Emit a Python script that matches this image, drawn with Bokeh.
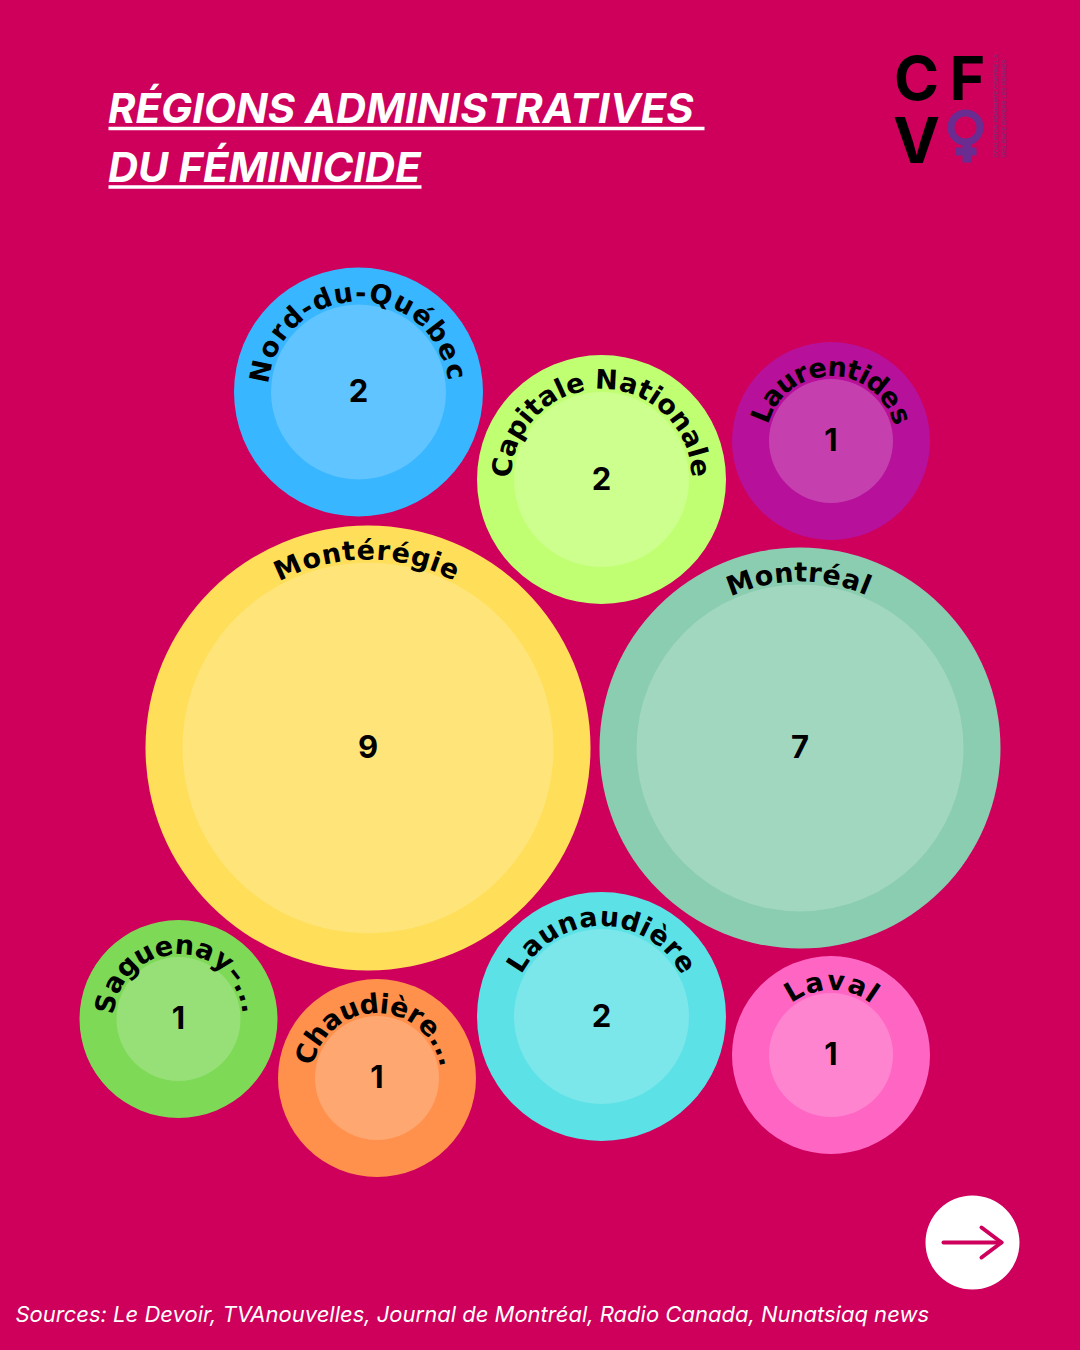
import math
from bokeh.plotting import figure
from bokeh.embed import file_html
from bokeh.resources import INLINE
from bokeh.core.properties import value

# ---------- data ----------
regions = ["Nord-du-Québec", "Capitale Nationale", "Laurentides", "Montérégie", "Montréal",
           "Saguenay–...", "Chaudière...", "Launaudière", "Laval"]
counts = [2, 2, 1, 9, 7, 1, 1, 2, 1]
colors = ["#38B6FF", "#C1FF72", "#B7109B", "#FFDE59", "#8BCDB0",
          "#7ED957", "#FF914D", "#5CE1E6", "#FF66C4"]

# ---------- layout (pixel coordinates of the reference) ----------
cx = [358, 601, 830.5, 367.5, 799.5, 178, 376.5, 601, 830.5]
cy = [391.5, 479, 440.5, 747.5, 747.5, 1018.5, 1077.5, 1016, 1054.5]
radius = {1: 99, 2: 124.5, 7: 200.5, 9: 222.5}
ring = 37
spans = [(-78, 78), (-83, 83), (-68, 70), (-24, 24.5), (-20, 22),
         (-78, 81), (-71, 76), (-57, 57), (-30, 34)]

title_lines = ["RÉGIONS ADMINISTRATIVES ", "DU FÉMINICIDE"]
sources = "Sources: Le Devoir, TVAnouvelles, Journal de Montréal, Radio Canada, Nunatsiaq news"
logo_small = ["COALITION FÉMINISTE CONTRE LA", "VIOLENCE ENVERS LES FEMMES"]

BG = "#CE005C"
FONT = "Inter"
LABEL_FONT = "DejaVu Sans"
LABEL_SIZE = 27

p = figure(width=1080, height=1350, x_range=(0, 1080), y_range=(1350, 0),
           output_backend="svg", toolbar_location=None, min_border=0,
           background_fill_color=BG, border_fill_color=BG, outline_line_color=None)
p.axis.visible = False
p.grid.visible = False

radii = [radius[c] for c in counts]
p.circle(cx, cy, radius=radii, fill_color=colors, line_color=None)
p.circle(cx, cy, radius=[r - ring for r in radii], fill_color="white", fill_alpha=0.2, line_color=None)
p.text(cx, [y - 1.5 for y in cy], text=[str(c) for c in counts], text_font=value(FONT), text_font_style="bold",
       text_font_size="31px", text_color="black", text_align="center", text_baseline="middle")

# approximate advance widths (em) for curved labels
W = {"i": .34, "l": .34, "t": .47, "r": .49, "-": .42, "–": .5, ".": .38, " ": .3, "f": .42,
     "M": .99, "N": .84, "Q": .85, "C": .73, "L": .64, "S": .72}
def adv(ch):
    return W.get(ch, .68)

for txt, x0, y0, r, (a0, a1) in zip(regions, cx, cy, radii, spans):
    rm = r - ring + 3 + 0.35 * LABEL_SIZE
    ws = [adv(ch) for ch in txt]
    pos, acc = [], 0
    for w in ws:
        pos.append(acc + w / 2)
        acc += w
    t0, t1 = pos[0], pos[-1]
    xs, ys, ang, chars = [], [], [], []
    for ch, q in zip(txt, pos):
        if ch == " ":
            continue
        a = math.radians(a0 + (a1 - a0) * (q - t0) / (t1 - t0))
        xs.append(x0 + rm * math.sin(a))
        ys.append(y0 - rm * math.cos(a))
        ang.append(-a)
        chars.append(ch)
    p.text(xs, ys, text=chars, angle=ang, text_font=value(LABEL_FONT), text_font_style="bold",
           text_font_size="%dpx" % LABEL_SIZE, text_color="black", text_align="center", text_baseline="middle")

# title
for line, y in zip(title_lines, [107.5, 166.5]):
    p.text([107.5], [y], text=[line], text_font=value(FONT), text_font_style="bold italic",
           text_font_size="41.7px", text_color="white", text_align="left", text_baseline="middle")
p.segment([108, 108], [128, 186.5], [704, 421], [128, 186.5], line_color="white", line_width=3.5)

# sources
p.text([15], [1313], text=[sources], text_font=value(FONT), text_font_style="italic",
       text_font_size="22px", text_color="white", text_align="left", text_baseline="middle")

# logo
p.text([916, 967], [77.5, 77.5], text=["C", "F"], text_font=value(FONT), text_font_style="bold",
       text_font_size="61px", text_color="black", text_align="center", text_baseline="middle")
p.text([916], [139], text=["V"], text_font=value(FONT), text_font_style="bold",
       text_font_size="63px", text_color="black", text_align="center", text_baseline="middle")
PURPLE = "#6A2C91"
p.circle([965], [127], radius=14.5, fill_color=None, line_color=PURPLE, line_width=7)
p.quad(left=[962, 955], right=[971, 976], top=[141, 147], bottom=[162, 155], fill_color=PURPLE, line_color=None)
p.text([995, 1003], [157, 157], text=logo_small, angle=math.pi / 2, text_font=value("Liberation Sans"),
       text_font_size="6px", text_font_style="bold", text_color="#7F2B70", text_align="left", text_baseline="middle")

# arrow button
p.circle([972], [1242], radius=47, fill_color="white", line_color=None)
p.line([943, 1001], [1242, 1242], line_color=BG, line_width=4, line_cap="round")
p.line([981, 1001, 981], [1227, 1242, 1257], line_color=BG, line_width=4, line_cap="round", line_join="round")

html = file_html(p, INLINE)
html = html.replace("<head>", "<head><style>html,body{margin:0;padding:0;background:%s;overflow:hidden}</style>" % BG, 1)
open("out.html", "w").write(html)
